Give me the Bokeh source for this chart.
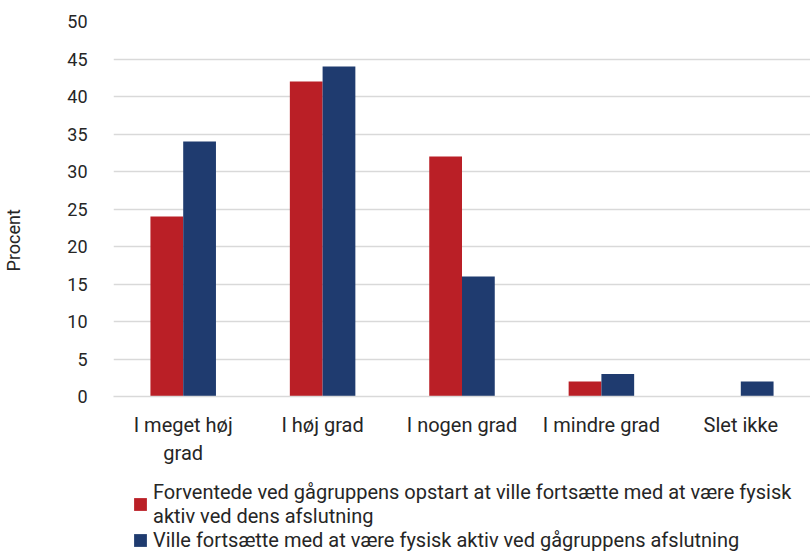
from bokeh.plotting import figure
from bokeh.models import ColumnDataSource, Legend, LegendItem, FixedTicker
from bokeh.layouts import column
from bokeh.transform import dodge
from bokeh.embed import file_html
from bokeh.resources import INLINE

categories = ["I meget høj\ngrad", "I høj grad", "I nogen grad", "I mindre grad", "Slet ikke"]
forventede = [24, 42, 32, 2, 0]
ville = [34, 44, 16, 3, 2]
series_labels = [
    "Forventede ved gågruppens opstart at ville fortsætte med at være fysisk\naktiv ved dens afslutning",
    "Ville fortsætte med at være fysisk aktiv ved gågruppens afslutning",
]
y_ticks = [0, 5, 10, 15, 20, 25, 30, 35, 40, 45, 50]
y_title = "Procent"

RED = "#BA1F26"
NAVY = "#1F3B6F"
FONT = "Roboto"
TXT = "#262626"

src = ColumnDataSource(dict(cat=categories, a=forventede, b=ville))

p = figure(x_range=categories, y_range=(0, 50), width=810, height=472,
           output_backend="svg", toolbar_location=None,
           min_border_left=107, min_border_right=0, min_border_top=21, min_border_bottom=76)
p.outline_line_color = None

p.vbar(x=dodge("cat", -0.1175, range=p.x_range), top="a", width=0.235, source=src,
       fill_color=RED, line_color=None)
p.vbar(x=dodge("cat", 0.1175, range=p.x_range), top="b", width=0.235, source=src,
       fill_color=NAVY, line_color=None)

p.xgrid.grid_line_color = None
p.ygrid.grid_line_color = "#D9D9D9"
p.ygrid.grid_line_width = 1.5
p.yaxis.ticker = FixedTicker(ticks=y_ticks)
p.yaxis.axis_line_color = None
p.yaxis.major_tick_line_color = None
p.yaxis.minor_tick_line_color = None
p.yaxis.major_label_text_font = FONT
p.yaxis.major_label_text_font_size = "18px"
p.yaxis.major_label_text_color = TXT
p.yaxis.major_label_standoff = 20

# y-axis title; trailing no-break spaces shift the visible word below the frame centre
p.yaxis.axis_label = y_title + "\u00a0" * 14
p.yaxis.axis_label_text_font = FONT
p.yaxis.axis_label_text_font_size = "18px"
p.yaxis.axis_label_text_font_style = "normal"
p.yaxis.axis_label_text_color = TXT
p.yaxis.axis_label_standoff = 40

p.xaxis.axis_line_color = "#D9D9D9"
p.xaxis.axis_line_width = 1.5
p.xaxis.major_tick_line_color = None
p.xaxis.minor_tick_line_color = None
p.xaxis.major_label_text_font = FONT
p.xaxis.major_label_text_font_size = "20px"
p.xaxis.major_label_text_color = TXT
p.xaxis.major_label_standoff = 10

# legend panel
lg = figure(width=810, height=80, output_backend="svg", toolbar_location=None,
            x_range=(0, 1), y_range=(0, 1), x_axis_location=None, y_axis_location=None,
            min_border_left=107, min_border_right=0, min_border_top=0, min_border_bottom=0)
lg.outline_line_color = None
lg.grid.visible = False
dummy = ColumnDataSource(dict(x=[-1.0], top=[0.0]))
da = lg.vbar(x="x", top="top", width=0.0, source=dummy, fill_color=RED, line_color=None)
db = lg.vbar(x="x", top="top", width=0.0, source=dummy, fill_color=NAVY, line_color=None)

legend = Legend(items=[LegendItem(label=series_labels[0], renderers=[da]),
                       LegendItem(label=series_labels[1], renderers=[db])],
                location=(19, 0), orientation="vertical",
                label_text_font=FONT, label_text_font_size="20px", label_text_color=TXT,
                glyph_width=16, glyph_height=16, label_standoff=5, spacing=0,
                padding=0, margin=0, border_line_color=None, background_fill_alpha=0)
lg.add_layout(legend, "center")

layout = column(p, lg, spacing=0)
open("out.html", "w").write(file_html(layout, INLINE))
